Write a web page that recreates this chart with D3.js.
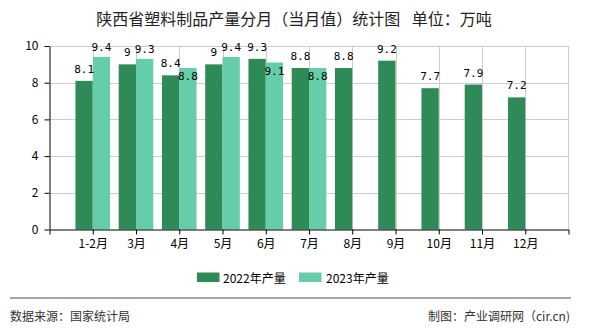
<!DOCTYPE html>
<html><head><meta charset="utf-8">
<script src="https://cdn.jsdelivr.net/npm/d3@7/dist/d3.min.js"></script>
<style>body{margin:0;background:#fff}svg{display:block}</style>
</head><body>
<svg id="c" width="590" height="330"></svg>
<script>
const categories = ["1-2月","3月","4月","5月","6月","7月","8月","9月","10月","11月","12月"];
const values2022 = [8.1, 9, 8.4, 9, 9.3, 8.8, 8.8, 9.2, 7.7, 7.9, 7.2];
const values2023 = [9.4, 9.3, 8.8, 9.4, 9.1, 8.8, null, null, null, null, null];
const yTicks = [0, 2, 4, 6, 8, 10];
const seriesNames = ["2022年产量", "2023年产量"];
const title = "陕西省塑料制品产量分月（当月值）统计图 单位：万吨";
const sourceText = "数据来源：国家统计局";
const makerText = "制图：产业调研网（cir.cn)";

const colors = ["#2e8b57", "#66cdaa"];
const svg = d3.select("#c");
const L = 49.5, R = 568.5, T = 46, B = 229.5;
const cjk = "'Noto Sans CJK SC', 'Noto Sans', sans-serif";
const mono = "'DejaVu Sans Mono', monospace";

const x = d3.scalePoint().domain(categories).range([L, R]).padding(1);
const y = d3.scaleLinear().domain([0, 10]).range([B, T]);
const bw = x.step() * 0.4;

// title
svg.append("text").attr("x", 294).attr("y", 18).attr("text-anchor", "middle")
  .attr("dominant-baseline", "central").attr("font-family", cjk).attr("font-size", 16)
  .attr("word-spacing", 8).attr("fill", "#222").text(title);

// grid
const g = svg.append("g");
g.selectAll("line.h").data(yTicks.filter(d => d > 0)).join("line")
  .attr("x1", L).attr("x2", R).attr("y1", d => Math.round(y(d)) + 0.5).attr("y2", d => Math.round(y(d)) + 0.5)
  .attr("stroke", "#cccccc");
g.selectAll("line.v").data(categories).join("line")
  .attr("x1", d => Math.round(x(d)) + 0.5).attr("x2", d => Math.round(x(d)) + 0.5)
  .attr("y1", T).attr("y2", B).attr("stroke", "#cccccc");
g.append("line").attr("x1", R).attr("x2", R).attr("y1", T).attr("y2", B).attr("stroke", "#cccccc");

// bars
const bars = svg.append("g");
bars.selectAll("rect.a").data(categories).join("rect")
  .attr("x", d => x(d) - bw).attr("width", bw)
  .attr("y", (d, i) => y(values2022[i])).attr("height", (d, i) => B - y(values2022[i]))
  .attr("fill", colors[0]);
const c2 = categories.filter((d, i) => values2023[i] != null);
bars.selectAll("rect.b").data(c2).join("rect")
  .attr("x", d => x(d)).attr("width", bw)
  .attr("y", (d, i) => y(values2023[i])).attr("height", (d, i) => B - y(values2023[i]))
  .attr("fill", colors[1]);

// axes
const xa = svg.append("g").attr("transform", `translate(0,${B})`)
  .call(d3.axisBottom(x).tickSize(5).tickSizeOuter(5));
xa.selectAll("text").attr("font-family", cjk).attr("font-size", 12).attr("fill", "#000").attr("dy", "0.9em");
xa.selectAll("path,line").attr("stroke", "#000");
const ya = svg.append("g").attr("transform", `translate(${L},0)`)
  .call(d3.axisLeft(y).tickValues(yTicks).tickSize(5).tickSizeOuter(0));
ya.selectAll("text").attr("font-family", cjk).attr("font-size", 12).attr("fill", "#000").attr("x", -11);
ya.selectAll("path,line").attr("stroke", "#000");

// value labels
const lab = svg.append("g").attr("font-family", mono).attr("font-size", 11).attr("fill", "#000").attr("text-anchor", "middle");
const l1 = lab.selectAll("text.a").data(categories).join("text")
  .attr("x", d => x(d) - bw / 2).attr("y", (d, i) => y(values2022[i]) - 8)
  .text((d, i) => String(values2022[i]));
const boxes = l1.nodes().map(n => n.getBBox());
c2.forEach((d, i) => {
  const t = lab.append("text").attr("x", x(d) + bw / 2).attr("y", y(values2023[i]) - 6).text(String(values2023[i]));
  const b = t.node().getBBox(), a = boxes[i];
  const ov = b.x < a.x + a.width + 1 && a.x < b.x + b.width + 1 && b.y < a.y + a.height && a.y < b.y + b.height;
  if (ov) t.attr("y", y(values2023[i]) + 12);
});

// legend
const lg = svg.append("g");
[[197, 223], [299, 326]].forEach((p, i) => {
  lg.append("rect").attr("x", p[0]).attr("y", 272.5).attr("width", 22.5).attr("height", 9.5).attr("fill", colors[i]);
  lg.append("text").attr("x", p[1]).attr("y", 277.5).attr("dominant-baseline", "central")
    .attr("font-family", cjk).attr("font-size", 12).attr("fill", "#000").text(seriesNames[i]);
});

// footer
svg.append("line").attr("x1", 10).attr("x2", 571).attr("y1", 298).attr("y2", 298).attr("stroke", "#888").attr("stroke-width", 1.5);
svg.append("text").attr("x", 10).attr("y", 315).attr("dominant-baseline", "central")
  .attr("font-family", cjk).attr("font-size", 12).attr("fill", "#333").text(sourceText);
svg.append("text").attr("x", 570).attr("y", 315).attr("text-anchor", "end").attr("dominant-baseline", "central")
  .attr("font-family", cjk).attr("font-size", 12).attr("fill", "#333").text(makerText);
</script>
</body></html>
